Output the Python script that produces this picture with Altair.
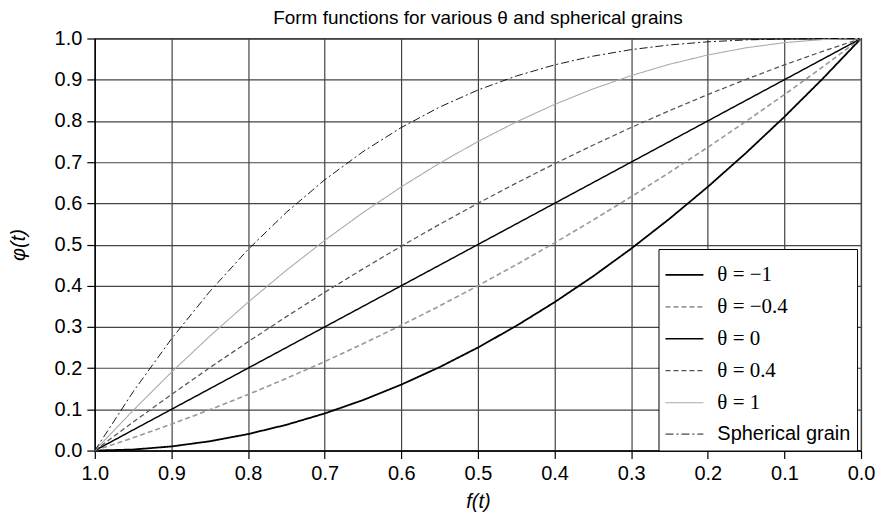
import altair as alt
import pandas as pd

f_vals = [1.0, 0.95, 0.9, 0.85, 0.8, 0.75, 0.7, 0.65, 0.6, 0.55, 0.5,
          0.45, 0.4, 0.35, 0.3, 0.25, 0.2, 0.15, 0.1, 0.05, 0.0]

theta_m1 = [0, 0.0025, 0.01, 0.0225, 0.04, 0.0625, 0.09, 0.1225, 0.16, 0.2025, 0.25,
            0.3025, 0.36, 0.4225, 0.49, 0.5625, 0.64, 0.7225, 0.81, 0.9025, 1.0]
theta_m04 = [0, 0.031, 0.064, 0.099, 0.136, 0.175, 0.216, 0.259, 0.304, 0.351, 0.4,
             0.451, 0.504, 0.559, 0.616, 0.675, 0.736, 0.799, 0.864, 0.931, 1.0]
theta_0 = [0, 0.05, 0.1, 0.15, 0.2, 0.25, 0.3, 0.35, 0.4, 0.45, 0.5,
           0.55, 0.6, 0.65, 0.7, 0.75, 0.8, 0.85, 0.9, 0.95, 1.0]
theta_04 = [0, 0.069, 0.136, 0.201, 0.264, 0.325, 0.384, 0.441, 0.496, 0.549, 0.6,
            0.649, 0.696, 0.741, 0.784, 0.825, 0.864, 0.901, 0.936, 0.969, 1.0]
theta_1 = [0, 0.0975, 0.19, 0.2775, 0.36, 0.4375, 0.51, 0.5775, 0.64, 0.6975, 0.75,
           0.7975, 0.84, 0.8775, 0.91, 0.9375, 0.96, 0.9775, 0.99, 0.9975, 1.0]
spherical = [0, 0.1426, 0.271, 0.3859, 0.488, 0.5781, 0.657, 0.7254, 0.784, 0.8336, 0.875,
             0.9089, 0.936, 0.9571, 0.973, 0.9844, 0.992, 0.9966, 0.999, 0.9999, 1.0]

series_names = ["θ = −1", "θ = −0.4", "θ = 0", "θ = 0.4", "θ = 1", "Spherical grain"]
series_vals = [theta_m1, theta_m04, theta_0, theta_04, theta_1, spherical]
colors = ["#000000", "#999999", "#000000", "#555555", "#aaaaaa", "#000000"]
widths = [1.8, 0.9, 1.8, 0.9, 2.4, 1.6]
dashes = [[1, 0], [5, 3], [1, 0], [5, 3], [1, 0], [8, 3, 2, 3]]

rows = []
for name, vals in zip(series_names, series_vals):
    for fx, v in zip(f_vals, vals):
        rows.append({"f": fx, "phi": v, "series": name})
df = pd.DataFrame(rows)

legend = alt.Legend(
    title=None,
    orient="none",
    legendX=565,
    legendY=211,
    direction="vertical",
    fillColor="white",
    strokeColor="black",
    padding=6,
    rowPadding=2,
    symbolType="stroke",
    symbolSize=1444,
    labelFont=alt.ExprRef("datum.label == 'Spherical grain' ? 'Liberation Sans' : 'Liberation Serif'"),
    labelFontSize=alt.ExprRef("datum.label == 'Spherical grain' ? 20 : 21"),
    labelColor="black",
    labelOffset=13,
    labelLimit=300,
)

chart = alt.Chart(df).mark_line().encode(
    x=alt.X("f:Q", title="f(t)",
            scale=alt.Scale(domain=[1.0, 0.0], nice=False),
            axis=alt.Axis(values=[1.0, 0.9, 0.8, 0.7, 0.6, 0.5, 0.4, 0.3, 0.2, 0.1, 0.0],
                          format=".1f", labelFlush=False)),
    y=alt.Y("phi:Q", title="φ(t)",
            scale=alt.Scale(domain=[0, 1], nice=False),
            axis=alt.Axis(values=[0, 0.1, 0.2, 0.3, 0.4, 0.5, 0.6, 0.7, 0.8, 0.9, 1.0],
                          format=".1f", labelFlush=False)),
    color=alt.Color("series:N", scale=alt.Scale(domain=series_names, range=colors), legend=legend),
    strokeDash=alt.StrokeDash("series:N", scale=alt.Scale(domain=series_names, range=dashes), legend=legend),
    strokeWidth=alt.StrokeWidth("series:N", scale=alt.Scale(domain=series_names, range=widths), legend=legend),
    order=alt.Order("f:Q", sort="descending"),
).properties(
    width=768,
    height=413,
    title=alt.TitleParams("Form functions for various θ and spherical grains",
                          font="Liberation Sans", fontSize=19, fontWeight="normal",
                          color="black", offset=1),
    padding={"left": 0, "right": 0, "top": 0, "bottom": 0},
).configure_axis(
    labelFont="Liberation Sans",
    labelFontSize=20,
    labelColor="black",
    titleFont="Liberation Sans",
    titleFontSize=20,
    titleFontWeight="normal",
    titleFontStyle="italic",
    titleColor="black",
    gridColor="#444444",
    gridWidth=1.2,
    gridOpacity=1,
    domainColor="black",
    domainWidth=1.2,
    tickColor="black",
    tickSize=8,
    tickWidth=1.2,
    labelPadding=5,
).configure_axisY(
    titlePadding=26,
).configure_axisX(
    titlePadding=8,
).configure_view(
    stroke="black",
    strokeWidth=1.2,
)

chart.save("out.html", embed_options={"renderer": "svg", "actions": False})
